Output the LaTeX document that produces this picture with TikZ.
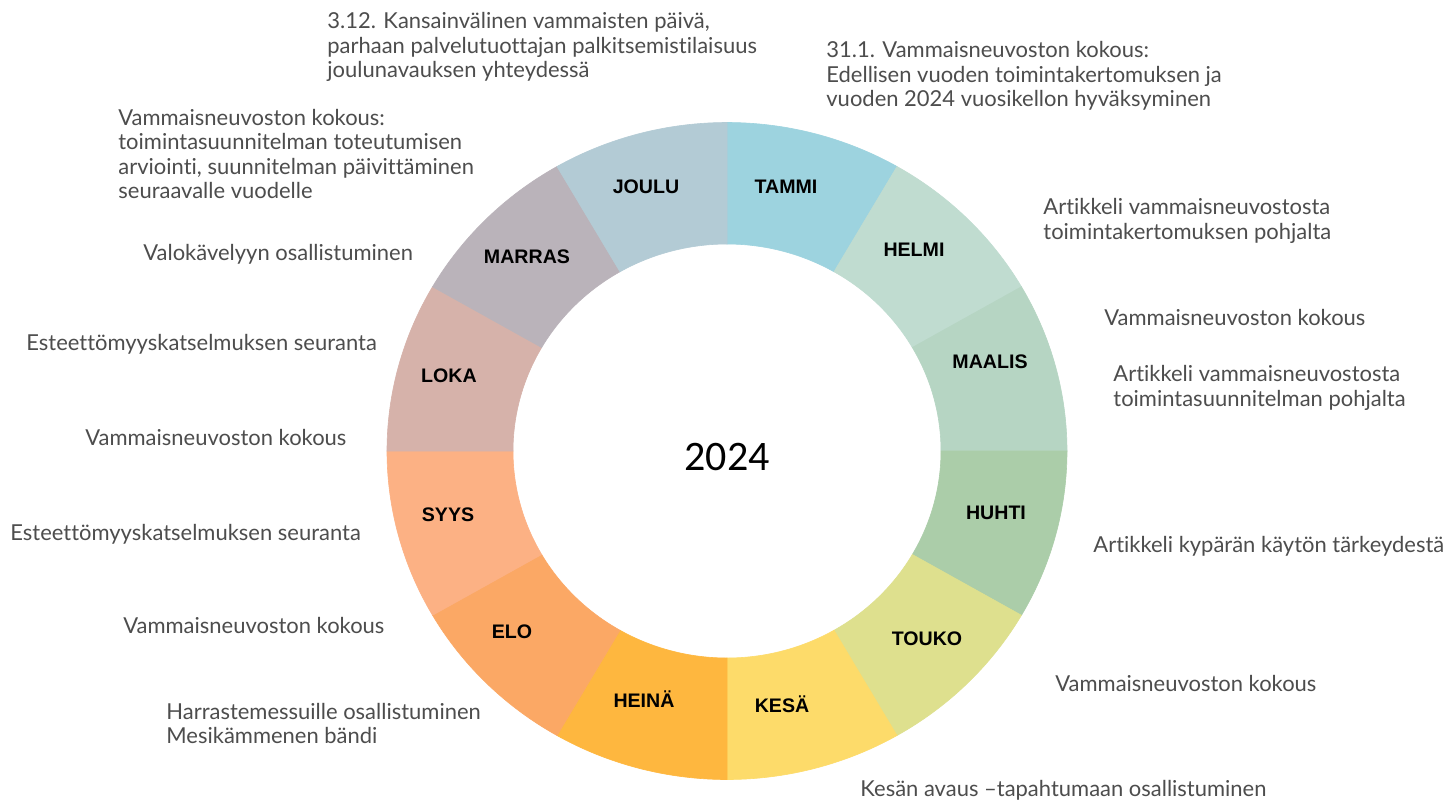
\documentclass[tikz,border=0pt]{standalone}
\usepackage{fontspec}
\usetikzlibrary{calc}
\setmainfont{Lato}[Ligatures={NoCommon}]
\newfontfamily\monthfont{Liberation Sans}
\newfontfamily\yearfont{Carlito}
\definecolor{cTammi}{HTML}{9DD3DF}
\definecolor{cHelmi}{HTML}{C0DCD0}
\definecolor{cMaalis}{HTML}{B6D5C3}
\definecolor{cHuhti}{HTML}{ABCDA9}
\definecolor{cTouko}{HTML}{DEE08E}
\definecolor{cKesa}{HTML}{FDDB6A}
\definecolor{cHeina}{HTML}{FEB73F}
\definecolor{cElo}{HTML}{FBA865}
\definecolor{cSyys}{HTML}{FCB184}
\definecolor{cLoka}{HTML}{D6B2AA}
\definecolor{cMarras}{HTML}{BAB3BA}
\definecolor{cJoulu}{HTML}{B3CBD5}
\definecolor{anncol}{HTML}{4D4D4D}
\newlength{\refw}
\newcommand{\ringseg}[3]{%
  \fill[segfill=#3] ($(C)+(#1:340 and 328.5)$)
    arc[start angle=#1, end angle=#2, x radius=340, y radius=328.5]
    -- ($(C)+(#2:214 and 207)$)
    arc[start angle=#2, end angle=#1, x radius=214, y radius=207] -- cycle;}
\AtBeginDocument{%
  \settowidth{\refw}{\normalfont\fontsize{10pt}{12pt}\selectfont Vammaisneuvoston kokous}%
  \pgfmathsetmacro{\annsz}{10*130.5/\refw}%
  \xdef\annsz{\annsz}}
\newcommand{\annfont}{\normalfont\fontsize{\annsz pt}{12.25pt}\selectfont}
\begin{document}
\begin{tikzpicture}[x=0.5pt,y=0.5pt,
  ann/.style={anchor=west, inner sep=0pt, align=left, text=anncol, font=\annfont},
  mon/.style={inner sep=0pt, text=black, font=\monthfont\bfseries\fontsize{9.8pt}{11pt}\selectfont},
  segfill/.style={fill=#1, draw=#1, line width=0.3pt}]
\fill[white] (0,0) rectangle (1446,-800);
\useasboundingbox (0,0) rectangle (1446,-800);
\coordinate (C) at (727,-451);
% ring segments
\ringseg{60}{90}{cTammi}
\ringseg{30}{60}{cHelmi}
\ringseg{0}{30}{cMaalis}
\ringseg{-30}{0}{cHuhti}
\ringseg{-60}{-30}{cTouko}
\ringseg{-90}{-60}{cKesa}
\ringseg{-120}{-90}{cHeina}
\ringseg{-150}{-120}{cElo}
\ringseg{-180}{-150}{cSyys}
\ringseg{150}{180}{cLoka}
\ringseg{120}{150}{cMarras}
\ringseg{90}{120}{cJoulu}
% month labels
\node[mon] (mTammi) at (786,-187) {TAMMI};
\node[mon] (mHelmi) at (914,-250) {HELMI};
\node[mon] (mMaalis) at (990,-362) {MAALIS};
\node[mon] (mHuhti) at (996,-513) {HUHTI};
\node[mon] (mTouko) at (927,-639) {TOUKO};
\node[mon] (mKesa) at (782,-704) {KESÄ};
\node[mon] (mHeina) at (644,-699) {HEINÄ};
\node[mon] (mElo) at (512,-632) {ELO};
\node[mon] (mSyys) at (448,-515) {SYYS};
\node[mon] (mLoka) at (449,-376) {LOKA};
\node[mon] (mMarras) at (527,-257) {MARRAS};
\node[mon] (mJoulu) at (646,-187) {JOULU};
% year
\node[inner sep=0pt] (year) at (727,-457) {\yearfont\fontsize{21pt}{24pt}\selectfont 2024};
% annotations
\node[ann] (t1) at (327,-47) {3.12. Kansainvälinen vammaisten päivä,\\parhaan palvelutuottajan palkitsemistilaisuus\\joulunavauksen yhteydessä};
\node[ann] (t2) at (826,-76) {31.1. Vammaisneuvoston kokous:\\Edellisen vuoden toimintakertomuksen ja\\vuoden 2024 vuosikellon hyväksyminen};
\node[ann] (t3) at (118,-154) {Vammaisneuvoston kokous:\\toimintasuunnitelman toteutumisen\\arviointi, suunnitelman päivittäminen\\seuraavalle vuodelle};
\node[ann] (t4) at (143,-254) {Valokävelyyn osallistuminen};
\node[ann] (t5) at (26,-344) {Esteettömyyskatselmuksen seuranta};
\node[ann] (t6) at (85,-437) {Vammaisneuvoston kokous};
\node[ann] (t7) at (10,-534) {Esteettömyyskatselmuksen seuranta};
\node[ann] (t8) at (123,-625) {Vammaisneuvoston kokous};
\node[ann] (t9) at (166,-723.5) {Harrastemessuille osallistuminen\\Mesikämmenen bändi};
\node[ann] (t10) at (860,-790) {Kesän avaus –tapahtumaan osallistuminen};
\node[ann] (t11) at (1043,-221) {Artikkeli vammaisneuvostosta\\toimintakertomuksen pohjalta};
\node[ann] (t12) at (1104,-317) {Vammaisneuvoston kokous};
\node[ann] (t13) at (1113,-388) {Artikkeli vammaisneuvostosta\\toimintasuunnitelman pohjalta};
\node[ann] (t14) at (1093,-546) {Artikkeli kypärän käytön tärkeydestä};
\node[ann] (t15) at (1055,-683) {Vammaisneuvoston kokous};
\end{tikzpicture}
\end{document}
